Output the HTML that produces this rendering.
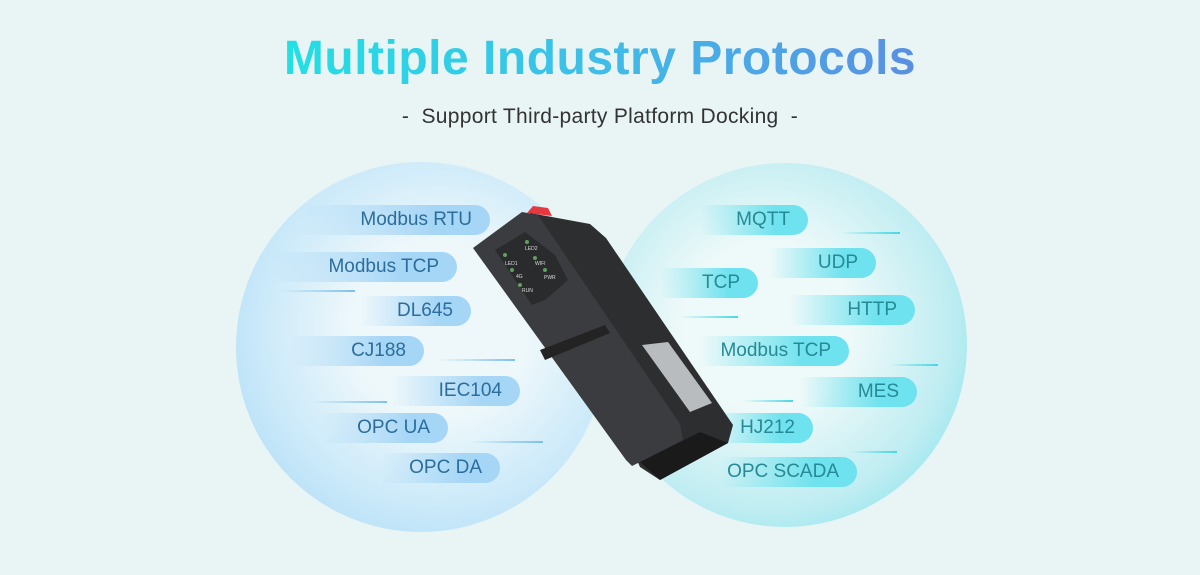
<!DOCTYPE html>
<html><head><meta charset="utf-8"><style>
body{margin:0;width:1200px;height:575px;background:#e9f5f5;font-family:"Liberation Sans",sans-serif;overflow:hidden;position:relative}
.t{position:absolute;left:0;width:1200px;text-align:center}
.title{top:31px;font-size:48px;font-weight:bold;letter-spacing:0.5px}
.title span{background:linear-gradient(90deg,#22e0e4,#3fbde8 50%,#5a8fe2);-webkit-background-clip:text;background-clip:text;color:transparent}
.sub{top:105px;font-size:21px;color:#333;letter-spacing:0.3px}
.c{position:absolute;border-radius:50%}
.p{position:absolute;height:30px;border-radius:0 15px 15px 0;font-size:19px;line-height:30px;text-align:right;padding-right:18px;box-sizing:border-box}
.L{background:linear-gradient(90deg,rgba(168,216,245,0),#a6d6f6 70%);color:#2b6d9c}
.R{background:linear-gradient(90deg,rgba(110,227,238,0),#6ee2ee 70%);color:#258a96}
.ln{position:absolute;height:2px}
.lL{background:linear-gradient(90deg,rgba(120,190,240,0),#7cc0ee)}
.lR{background:linear-gradient(90deg,rgba(60,210,225,0),#48d6e4)}
</style></head><body>
<div class="t title"><span>Multiple Industry Protocols</span></div>
<div class="t sub">-&nbsp; Support Third-party Platform Docking &nbsp;-</div>
<div class="c" style="left:236px;top:162px;width:370px;height:370px;background:radial-gradient(circle at 55% 45%,#eef8fb 30%,#c8e8f9 65%,#9cd3f6 100%)"></div>
<div class="c" style="left:603px;top:163px;width:364px;height:364px;background:radial-gradient(circle at 45% 45%,#eef9f9 30%,#bfedf2 65%,#66deeb 100%)"></div>

<div class="p L" style="left:300px;top:205px;width:190px">Modbus RTU</div>
<div class="p L" style="left:270px;top:252px;width:187px">Modbus TCP</div>
<div class="p L" style="left:360px;top:296px;width:111px">DL645</div>
<div class="p L" style="left:290px;top:336px;width:134px">CJ188</div>
<div class="p L" style="left:390px;top:376px;width:130px">IEC104</div>
<div class="p L" style="left:320px;top:413px;width:128px">OPC UA</div>
<div class="p L" style="left:380px;top:453px;width:120px">OPC DA</div>
<div class="ln lL" style="left:280px;top:290px;width:75px"></div>
<div class="ln lL" style="left:438px;top:359px;width:77px"></div>
<div class="ln lL" style="left:310px;top:401px;width:77px"></div>
<div class="ln lL" style="left:470px;top:441px;width:73px"></div>

<div class="p R" style="left:700px;top:205px;width:108px">MQTT</div>
<div class="p R" style="left:770px;top:248px;width:106px">UDP</div>
<div class="p R" style="left:660px;top:268px;width:98px">TCP</div>
<div class="p R" style="left:790px;top:295px;width:125px">HTTP</div>
<div class="p R" style="left:700px;top:336px;width:149px">Modbus TCP</div>
<div class="p R" style="left:800px;top:377px;width:117px">MES</div>
<div class="p R" style="left:710px;top:413px;width:103px">HJ212</div>
<div class="p R" style="left:720px;top:457px;width:137px">OPC SCADA</div>
<div class="ln lR" style="left:840px;top:232px;width:60px"></div>
<div class="ln lR" style="left:680px;top:316px;width:58px"></div>
<div class="ln lR" style="left:890px;top:364px;width:48px"></div>
<div class="ln lR" style="left:743px;top:400px;width:50px"></div>
<div class="ln lR" style="left:850px;top:451px;width:47px"></div>

<svg style="position:absolute;left:0;top:0" width="1200" height="575">
<path d="M527,213 L533,206 L548,208 L552,216 Z" fill="#e8383f"/>
<polygon points="530,213 590,224 606,238 733,425 728,443 660,480 640,467" fill="#2d2e30"/>
<polygon points="640,462 700,432 728,443 660,480" fill="#1a1a1b"/>
<polygon points="473,248 522,212 538,215 680,424 683,440 632,466 626,460" fill="#3b3c3f"/>
<polygon points="540,350 605,325 610,333 545,360" fill="#232324"/>
<polygon points="495,250 525,232 555,255 568,280 545,300 532,305" fill="#2a2b2d"/>
<polygon points="642,345 668,342 712,403 690,412" fill="#b9bcbf"/>
<g fill="#5fa05f"><circle cx="505" cy="255" r="2"/><circle cx="527" cy="242" r="2"/><circle cx="512" cy="270" r="2"/><circle cx="535" cy="258" r="2"/><circle cx="520" cy="285" r="2"/><circle cx="545" cy="270" r="2"/></g>
<g fill="#ddd" font-size="5"><text x="505" y="265">LED1</text><text x="525" y="250">LED2</text><text x="516" y="278">4G</text><text x="535" y="265">WIFI</text><text x="522" y="292">RUN</text><text x="544" y="279">PWR</text></g>
</svg>
</body></html>
